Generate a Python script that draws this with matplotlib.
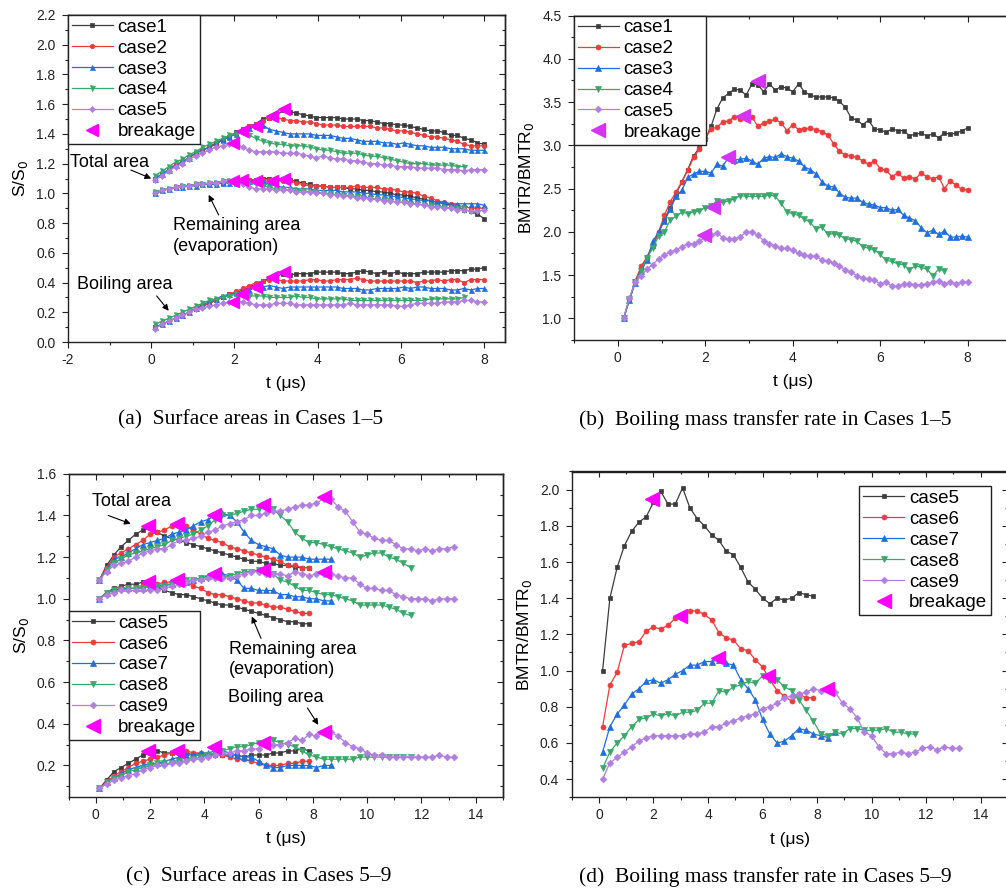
import numpy as np
import matplotlib
matplotlib.use('Agg')
import matplotlib.pyplot as plt
from matplotlib.ticker import MultipleLocator, NullFormatter

plt.rcParams['font.family'] = ['Liberation Sans', 'DejaVu Sans']
plt.rcParams['axes.unicode_minus'] = False

# ---------------- (a) surface areas, cases 1-5 ----------------
T_A = np.linspace(0.1, 8.0, 50)
A_LABELS = ['case1', 'case2', 'case3', 'case4', 'case5']

A_TOTAL = [
    [1.10, 1.13, 1.16, 1.19, 1.21, 1.24, 1.27, 1.29, 1.31, 1.34,
     1.36, 1.38, 1.41, 1.43, 1.45, 1.47, 1.50, 1.51, 1.52, 1.56,
     1.55, 1.54, 1.53, 1.52, 1.51, 1.51, 1.51, 1.51, 1.50, 1.50,
     1.50, 1.49, 1.49, 1.48, 1.47, 1.47, 1.46, 1.46, 1.45, 1.44,
     1.43, 1.42, 1.42, 1.41, 1.39, 1.39, 1.37, 1.36, 1.34, 1.33],
    [1.10, 1.13, 1.16, 1.19, 1.21, 1.24, 1.27, 1.29, 1.31, 1.33,
     1.36, 1.38, 1.40, 1.42, 1.45, 1.47, 1.49, 1.51, 1.51, 1.50,
     1.49, 1.49, 1.48, 1.48, 1.47, 1.46, 1.46, 1.46, 1.45, 1.45,
     1.45, 1.45, 1.45, 1.44, 1.44, 1.43, 1.42, 1.42, 1.41, 1.40,
     1.39, 1.38, 1.38, 1.37, 1.36, 1.35, 1.33, 1.32, 1.32, 1.32],
    [1.10, 1.13, 1.16, 1.19, 1.21, 1.24, 1.27, 1.29, 1.31, 1.33,
     1.36, 1.38, 1.40, 1.42, 1.44, 1.45, 1.46, 1.43, 1.42, 1.41,
     1.40, 1.40, 1.40, 1.40, 1.39, 1.39, 1.39, 1.38, 1.37, 1.37,
     1.36, 1.35, 1.35, 1.35, 1.34, 1.34, 1.33, 1.34, 1.33, 1.32,
     1.32, 1.31, 1.31, 1.31, 1.30, 1.30, 1.30, 1.29, 1.29, 1.29],
    [1.12, 1.15, 1.18, 1.21, 1.23, 1.26, 1.28, 1.31, 1.33, 1.35,
     1.37, 1.39, 1.40, 1.41, 1.39, 1.37, 1.35, 1.34, 1.33, 1.33,
     1.32, 1.32, 1.32, 1.31, 1.30, 1.29, 1.29, 1.28, 1.27, 1.27,
     1.27, 1.26, 1.25, 1.25, 1.24, 1.23, 1.22, 1.21, 1.20, 1.20,
     1.20, 1.19, 1.19, 1.19, 1.19, 1.18, 1.18],
    [1.09, 1.12, 1.15, 1.18, 1.20, 1.23, 1.25, 1.27, 1.29, 1.31,
     1.32, 1.33, 1.34, 1.31, 1.29, 1.28, 1.28, 1.28, 1.28, 1.27,
     1.27, 1.27, 1.26, 1.25, 1.24, 1.25, 1.24, 1.23, 1.23, 1.22,
     1.22, 1.21, 1.20, 1.20, 1.19, 1.19, 1.18, 1.18, 1.18, 1.17,
     1.17, 1.17, 1.17, 1.16, 1.16, 1.16, 1.15, 1.16, 1.16, 1.16],
]
A_REMAIN = [
    [1.00, 1.02, 1.03, 1.04, 1.05, 1.05, 1.06, 1.06, 1.06, 1.07,
     1.07, 1.08, 1.08, 1.09, 1.09, 1.09, 1.10, 1.10, 1.10, 1.10,
     1.09, 1.08, 1.07, 1.06, 1.05, 1.05, 1.04, 1.04, 1.04, 1.03,
     1.03, 1.02, 1.02, 1.01, 1.01, 1.00, 0.99, 0.99, 0.98, 0.97,
     0.96, 0.95, 0.94, 0.93, 0.92, 0.91, 0.89, 0.88, 0.86, 0.83],
    [1.00, 1.02, 1.03, 1.04, 1.05, 1.05, 1.06, 1.06, 1.06, 1.07,
     1.07, 1.08, 1.08, 1.08, 1.09, 1.09, 1.09, 1.09, 1.09, 1.08,
     1.08, 1.07, 1.06, 1.05, 1.05, 1.05, 1.04, 1.04, 1.04, 1.04,
     1.05, 1.04, 1.04, 1.04, 1.03, 1.03, 1.02, 1.01, 1.01, 1.00,
     0.98, 0.97, 0.95, 0.94, 0.93, 0.92, 0.91, 0.90, 0.90, 0.90],
    [1.00, 1.02, 1.03, 1.04, 1.04, 1.05, 1.05, 1.06, 1.06, 1.06,
     1.07, 1.07, 1.07, 1.08, 1.08, 1.08, 1.08, 1.06, 1.05, 1.04,
     1.04, 1.03, 1.03, 1.03, 1.02, 1.02, 1.02, 1.02, 1.01, 1.01,
     1.01, 1.00, 1.00, 0.99, 0.99, 0.98, 0.98, 0.97, 0.96, 0.96,
     0.95, 0.95, 0.94, 0.94, 0.93, 0.93, 0.93, 0.93, 0.93, 0.92],
    [1.01, 1.02, 1.03, 1.04, 1.05, 1.05, 1.06, 1.06, 1.07, 1.07,
     1.08, 1.08, 1.09, 1.09, 1.07, 1.06, 1.05, 1.04, 1.03, 1.03,
     1.02, 1.02, 1.02, 1.01, 1.01, 1.00, 1.00, 0.99, 0.99, 0.98,
     0.98, 0.97, 0.97, 0.96, 0.96, 0.95, 0.94, 0.94, 0.93, 0.93,
     0.92, 0.92, 0.91, 0.91, 0.90, 0.90, 0.90],
    [1.00, 1.02, 1.03, 1.04, 1.05, 1.05, 1.06, 1.06, 1.07, 1.07,
     1.08, 1.08, 1.08, 1.06, 1.04, 1.03, 1.03, 1.03, 1.02, 1.02,
     1.02, 1.01, 1.01, 1.01, 1.00, 1.00, 0.99, 0.99, 0.98, 0.98,
     0.97, 0.97, 0.96, 0.96, 0.95, 0.95, 0.94, 0.94, 0.93, 0.93,
     0.92, 0.91, 0.91, 0.90, 0.90, 0.89, 0.89, 0.88, 0.88, 0.89],
]
A_BOIL = [
    [0.10, 0.12, 0.14, 0.16, 0.18, 0.20, 0.22, 0.24, 0.26, 0.28,
     0.30, 0.32, 0.33, 0.35, 0.37, 0.39, 0.41, 0.43, 0.44, 0.46,
     0.45, 0.46, 0.46, 0.46, 0.47, 0.47, 0.47, 0.47, 0.46, 0.46,
     0.47, 0.48, 0.47, 0.46, 0.47, 0.46, 0.47, 0.46, 0.46, 0.46,
     0.47, 0.47, 0.47, 0.47, 0.48, 0.48, 0.48, 0.49, 0.49, 0.50],
    [0.10, 0.12, 0.14, 0.16, 0.18, 0.20, 0.22, 0.24, 0.26, 0.28,
     0.30, 0.32, 0.34, 0.36, 0.38, 0.40, 0.41, 0.42, 0.42, 0.41,
     0.41, 0.41, 0.41, 0.42, 0.42, 0.41, 0.41, 0.42, 0.42, 0.42,
     0.43, 0.42, 0.41, 0.41, 0.41, 0.41, 0.41, 0.41, 0.41, 0.40,
     0.41, 0.41, 0.42, 0.41, 0.42, 0.42, 0.40, 0.42, 0.42, 0.42],
    [0.10, 0.12, 0.14, 0.16, 0.18, 0.20, 0.23, 0.25, 0.27, 0.29,
     0.31, 0.32, 0.33, 0.34, 0.35, 0.37, 0.37, 0.38, 0.37, 0.36,
     0.37, 0.37, 0.37, 0.37, 0.37, 0.37, 0.37, 0.37, 0.36, 0.36,
     0.36, 0.35, 0.35, 0.36, 0.36, 0.36, 0.36, 0.37, 0.36, 0.37,
     0.37, 0.36, 0.36, 0.36, 0.35, 0.35, 0.36, 0.35, 0.36, 0.36],
    [0.12, 0.14, 0.16, 0.18, 0.20, 0.22, 0.24, 0.26, 0.28, 0.29,
     0.30, 0.31, 0.32, 0.32, 0.31, 0.31, 0.31, 0.30, 0.30, 0.30,
     0.30, 0.31, 0.30, 0.30, 0.29, 0.29, 0.29, 0.29, 0.29, 0.28,
     0.28, 0.28, 0.28, 0.28, 0.28, 0.28, 0.28, 0.28, 0.28, 0.28,
     0.28, 0.29, 0.29, 0.29, 0.29, 0.29, 0.30],
    [0.09, 0.12, 0.14, 0.16, 0.18, 0.20, 0.22, 0.23, 0.24, 0.25,
     0.26, 0.27, 0.27, 0.27, 0.26, 0.25, 0.25, 0.25, 0.26, 0.26,
     0.26, 0.25, 0.25, 0.25, 0.25, 0.25, 0.25, 0.25, 0.25, 0.26,
     0.25, 0.25, 0.25, 0.25, 0.25, 0.25, 0.24, 0.24, 0.25, 0.26,
     0.26, 0.26, 0.26, 0.27, 0.27, 0.27, 0.28, 0.28, 0.27, 0.27],
]
A_BRK_T = [3.18, 2.91, 2.51, 2.17, 1.97]
A_BRK_TOTAL = [1.57, 1.52, 1.45, 1.42, 1.34]
A_BRK_REMAIN = [1.10, 1.08, 1.08, 1.09, 1.08]
A_BRK_BOIL = [0.47, 0.44, 0.37, 0.32, 0.27]

# ---------------- (b) boiling mass transfer rate, cases 1-5 ----------------
T_B = np.arange(1, 61) * 2 / 15
B_RATE = [
    [1.00, 1.22, 1.43, 1.58, 1.70, 1.84, 1.99, 2.14, 2.28, 2.44,
     2.58, 2.72, 2.88, 2.97, 3.07, 3.22, 3.42, 3.55, 3.60, 3.65,
     3.64, 3.58, 3.71, 3.70, 3.62, 3.71, 3.64, 3.68, 3.66, 3.62,
     3.71, 3.62, 3.58, 3.56, 3.56, 3.56, 3.55, 3.51, 3.44, 3.32,
     3.29, 3.24, 3.29, 3.19, 3.18, 3.15, 3.19, 3.17, 3.17, 3.11,
     3.13, 3.14, 3.11, 3.13, 3.09, 3.14, 3.13, 3.14, 3.17, 3.20],
    [1.00, 1.22, 1.43, 1.60, 1.71, 1.85, 2.00, 2.19, 2.35, 2.46,
     2.58, 2.71, 2.86, 2.96, 3.08, 3.19, 3.21, 3.27, 3.28, 3.33,
     3.31, 3.32, 3.33, 3.22, 3.26, 3.28, 3.30, 3.26, 3.17, 3.24,
     3.18, 3.19, 3.20, 3.18, 3.16, 3.12, 3.02, 2.93, 2.89, 2.88,
     2.86, 2.82, 2.78, 2.82, 2.73, 2.71, 2.64, 2.68, 2.62, 2.64,
     2.61, 2.68, 2.64, 2.61, 2.64, 2.50, 2.59, 2.54, 2.49, 2.48],
    [1.00, 1.21, 1.41, 1.55, 1.67, 1.89, 2.00, 2.13, 2.26, 2.41,
     2.48, 2.63, 2.67, 2.70, 2.70, 2.68, 2.78, 2.76, 2.86, 2.83,
     2.84, 2.85, 2.82, 2.78, 2.85, 2.87, 2.86, 2.90, 2.87, 2.85,
     2.82, 2.75, 2.72, 2.67, 2.58, 2.53, 2.52, 2.45, 2.40, 2.39,
     2.39, 2.34, 2.32, 2.31, 2.28, 2.28, 2.25, 2.26, 2.19, 2.16,
     2.13, 2.05, 1.99, 2.02, 1.97, 2.01, 1.94, 1.94, 1.95, 1.94],
    [1.00, 1.22, 1.42, 1.55, 1.70, 1.81, 1.95, 2.00, 2.14, 2.18,
     2.23, 2.21, 2.23, 2.24, 2.28, 2.30, 2.36, 2.34, 2.36, 2.38,
     2.42, 2.41, 2.41, 2.41, 2.41, 2.43, 2.41, 2.33, 2.23, 2.21,
     2.19, 2.15, 2.11, 2.03, 2.06, 1.97, 1.98, 1.96, 1.92, 1.91,
     1.89, 1.83, 1.81, 1.79, 1.74, 1.67, 1.66, 1.63, 1.62, 1.56,
     1.61, 1.59, 1.57, 1.49, 1.57, 1.55],
    [1.00, 1.24, 1.42, 1.49, 1.57, 1.62, 1.69, 1.73, 1.77, 1.79,
     1.83, 1.86, 1.86, 1.90, 1.93, 1.96, 1.99, 1.93, 1.92, 1.92,
     1.94, 2.00, 2.00, 1.96, 1.90, 1.86, 1.84, 1.81, 1.81, 1.79,
     1.75, 1.73, 1.72, 1.72, 1.67, 1.66, 1.64, 1.61, 1.56, 1.54,
     1.49, 1.47, 1.45, 1.44, 1.40, 1.42, 1.37, 1.37, 1.40, 1.40,
     1.39, 1.39, 1.40, 1.42, 1.43, 1.40, 1.42, 1.40, 1.42, 1.42],
]
B_BRK_T = [3.20, 2.87, 2.51, 2.17, 1.97]
B_BRK_RATE = [3.74, 3.34, 2.87, 2.29, 1.96]

# ---------------- (c)/(d) cases 5-9 ----------------
T_CD = (2 * np.arange(50) + 1) * 2 / 15
CD_LABELS = ['case5', 'case6', 'case7', 'case8', 'case9']

C_TOTAL = [
    [1.09, 1.16, 1.21, 1.25, 1.28, 1.31, 1.33, 1.34, 1.32, 1.30,
     1.29, 1.28, 1.27, 1.26, 1.25, 1.24, 1.23, 1.22, 1.21, 1.20,
     1.19, 1.18, 1.18, 1.17, 1.17, 1.16, 1.16, 1.15, 1.15, 1.15],
    [1.09, 1.15, 1.20, 1.22, 1.24, 1.26, 1.28, 1.31, 1.32, 1.33,
     1.35, 1.35, 1.35, 1.33, 1.31, 1.29, 1.28, 1.27, 1.25, 1.24,
     1.23, 1.22, 1.21, 1.20, 1.19, 1.18, 1.16, 1.16, 1.15, 1.15],
    [1.09, 1.14, 1.19, 1.20, 1.22, 1.24, 1.26, 1.27, 1.28, 1.29,
     1.31, 1.32, 1.33, 1.35, 1.37, 1.38, 1.40, 1.41, 1.40, 1.37,
     1.32, 1.28, 1.26, 1.25, 1.24, 1.21, 1.20, 1.20, 1.20, 1.19,
     1.19, 1.19, 1.19],
    [1.09, 1.14, 1.17, 1.19, 1.21, 1.22, 1.23, 1.24, 1.25, 1.26,
     1.28, 1.29, 1.30, 1.31, 1.33, 1.35, 1.38, 1.40, 1.40, 1.41,
     1.42, 1.43, 1.43, 1.44, 1.43, 1.40, 1.37, 1.32, 1.29, 1.27,
     1.27, 1.26, 1.25, 1.24, 1.23, 1.22, 1.20, 1.21, 1.22, 1.22,
     1.20, 1.19, 1.17, 1.15],
    [1.09, 1.13, 1.16, 1.17, 1.18, 1.20, 1.22, 1.23, 1.24, 1.24,
     1.26, 1.28, 1.28, 1.29, 1.30, 1.32, 1.33, 1.35, 1.36, 1.37,
     1.38, 1.40, 1.40, 1.41, 1.42, 1.42, 1.43, 1.44, 1.45, 1.45,
     1.46, 1.48, 1.48, 1.44, 1.42, 1.37, 1.32, 1.31, 1.29, 1.28,
     1.28, 1.26, 1.24, 1.24, 1.23, 1.24, 1.23, 1.24, 1.24, 1.25],
]
C_REMAIN = [
    [1.00, 1.03, 1.05, 1.06, 1.07, 1.07, 1.08, 1.08, 1.06, 1.04,
     1.03, 1.02, 1.02, 1.01, 1.00, 0.99, 0.98, 0.97, 0.97, 0.96,
     0.95, 0.94, 0.93, 0.92, 0.91, 0.90, 0.89, 0.89, 0.88, 0.88],
    [1.00, 1.03, 1.04, 1.05, 1.05, 1.05, 1.06, 1.07, 1.07, 1.08,
     1.08, 1.08, 1.08, 1.06, 1.05, 1.03, 1.02, 1.02, 1.01, 1.00,
     0.99, 0.98, 0.98, 0.97, 0.96, 0.96, 0.95, 0.94, 0.93, 0.93],
    [1.00, 1.03, 1.04, 1.05, 1.05, 1.05, 1.05, 1.06, 1.06, 1.07,
     1.07, 1.08, 1.08, 1.09, 1.10, 1.11, 1.12, 1.12, 1.11, 1.09,
     1.05, 1.05, 1.04, 1.04, 1.04, 1.02, 1.02, 1.01, 1.01, 1.00,
     1.00, 0.99, 0.99],
    [1.00, 1.03, 1.04, 1.04, 1.05, 1.05, 1.05, 1.06, 1.06, 1.06,
     1.07, 1.08, 1.09, 1.09, 1.10, 1.10, 1.10, 1.10, 1.11, 1.12,
     1.13, 1.13, 1.14, 1.13, 1.12, 1.09, 1.08, 1.06, 1.04, 1.04,
     1.03, 1.02, 1.02, 1.01, 1.00, 0.99, 0.97, 0.97, 0.97, 0.97,
     0.96, 0.95, 0.93, 0.92],
    [1.00, 1.02, 1.03, 1.04, 1.04, 1.04, 1.04, 1.04, 1.04, 1.05,
     1.06, 1.07, 1.08, 1.09, 1.09, 1.10, 1.10, 1.10, 1.10, 1.11,
     1.12, 1.13, 1.13, 1.12, 1.12, 1.12, 1.11, 1.13, 1.12, 1.11,
     1.12, 1.12, 1.12, 1.11, 1.10, 1.10, 1.07, 1.05, 1.05, 1.04,
     1.04, 1.02, 1.01, 1.00, 1.00, 1.00, 0.99, 1.00, 1.00, 1.00],
]
C_BOIL = [
    [0.09, 0.13, 0.17, 0.19, 0.21, 0.23, 0.25, 0.26, 0.27, 0.26,
     0.26, 0.26, 0.26, 0.25, 0.25, 0.25, 0.25, 0.25, 0.25, 0.25,
     0.24, 0.25, 0.25, 0.25, 0.26, 0.26, 0.27, 0.27, 0.28, 0.27],
    [0.09, 0.12, 0.15, 0.17, 0.19, 0.21, 0.22, 0.23, 0.24, 0.25,
     0.26, 0.27, 0.27, 0.26, 0.26, 0.25, 0.25, 0.25, 0.24, 0.23,
     0.23, 0.22, 0.21, 0.20, 0.20, 0.20, 0.21, 0.21, 0.22, 0.22],
    [0.09, 0.12, 0.14, 0.16, 0.18, 0.19, 0.20, 0.21, 0.21, 0.22,
     0.23, 0.24, 0.25, 0.25, 0.26, 0.26, 0.27, 0.27, 0.26, 0.25,
     0.24, 0.24, 0.22, 0.20, 0.19, 0.19, 0.20, 0.20, 0.20, 0.20,
     0.19, 0.20, 0.20],
    [0.09, 0.12, 0.14, 0.15, 0.17, 0.18, 0.19, 0.20, 0.21, 0.21,
     0.21, 0.22, 0.22, 0.23, 0.24, 0.25, 0.26, 0.27, 0.28, 0.29,
     0.29, 0.30, 0.31, 0.31, 0.32, 0.31, 0.30, 0.29, 0.27, 0.25,
     0.24, 0.23, 0.23, 0.23, 0.23, 0.23, 0.24, 0.24, 0.24, 0.24,
     0.24, 0.24, 0.24, 0.24],
    [0.09, 0.11, 0.13, 0.14, 0.15, 0.16, 0.18, 0.19, 0.20, 0.20,
     0.21, 0.21, 0.22, 0.23, 0.23, 0.24, 0.25, 0.26, 0.26, 0.27,
     0.27, 0.28, 0.28, 0.30, 0.30, 0.30, 0.31, 0.33, 0.32, 0.35,
     0.34, 0.36, 0.36, 0.34, 0.31, 0.29, 0.28, 0.26, 0.25, 0.25,
     0.24, 0.24, 0.24, 0.24, 0.24, 0.24, 0.24, 0.25, 0.24, 0.24],
]
C_BRK_T = [1.94, 3.00, 4.34, 6.18, 8.40]
C_BRK_TOTAL = [1.35, 1.36, 1.40, 1.45, 1.49]
C_BRK_REMAIN = [1.08, 1.09, 1.12, 1.14, 1.13]
C_BRK_BOIL = [0.27, 0.27, 0.29, 0.31, 0.36]

D_RATE = [
    [1.00, 1.40, 1.57, 1.69, 1.77, 1.82, 1.85, 1.93, 1.99, 1.92,
     1.92, 2.01, 1.90, 1.84, 1.80, 1.75, 1.72, 1.66, 1.64, 1.57,
     1.49, 1.45, 1.40, 1.37, 1.40, 1.39, 1.40, 1.43, 1.42, 1.41],
    [0.69, 0.92, 0.99, 1.14, 1.15, 1.16, 1.22, 1.24, 1.23, 1.25,
     1.29, 1.30, 1.33, 1.33, 1.31, 1.28, 1.21, 1.18, 1.17, 1.12,
     1.11, 1.06, 1.02, 0.95, 0.89, 0.86, 0.83, 0.87, 0.85, 0.85],
    [0.55, 0.69, 0.76, 0.81, 0.87, 0.90, 0.94, 0.95, 0.93, 0.95,
     0.98, 1.00, 1.03, 1.03, 1.05, 1.05, 1.06, 1.04, 1.03, 0.95,
     0.90, 0.84, 0.73, 0.65, 0.60, 0.61, 0.64, 0.68, 0.67, 0.65,
     0.64, 0.63, 0.66],
    [0.46, 0.55, 0.60, 0.64, 0.69, 0.73, 0.74, 0.76, 0.75, 0.76,
     0.75, 0.77, 0.77, 0.78, 0.82, 0.82, 0.89, 0.88, 0.91, 0.92,
     0.94, 0.93, 0.97, 0.95, 0.95, 0.91, 0.89, 0.84, 0.78, 0.72,
     0.65, 0.64, 0.66, 0.65, 0.68, 0.68, 0.67, 0.67, 0.67, 0.68,
     0.66, 0.66, 0.65, 0.65],
    [0.40, 0.49, 0.52, 0.55, 0.58, 0.61, 0.63, 0.64, 0.64, 0.64,
     0.64, 0.64, 0.65, 0.65, 0.66, 0.69, 0.69, 0.71, 0.72, 0.74,
     0.75, 0.76, 0.79, 0.80, 0.82, 0.85, 0.86, 0.87, 0.88, 0.90,
     0.89, 0.90, 0.88, 0.82, 0.79, 0.74, 0.66, 0.64, 0.58, 0.54,
     0.54, 0.55, 0.54, 0.55, 0.57, 0.58, 0.56, 0.58, 0.57, 0.57],
]
D_BRK_T = [1.93, 2.97, 4.38, 6.21, 8.35]
D_BRK_RATE = [1.95, 1.30, 1.07, 0.97, 0.90]

# colour / marker per legend slot
STYLES = [('#3c3c3c', 's'), ('#ee3b3b', 'o'), ('#1f6fdf', '^'),
          ('#3aa86a', 'v'), ('#b07fe0', 'D')]
MS = {'s': 3.0, 'o': 3.6, '^': 4.0, 'v': 4.0, 'D': 3.4}
MAGENTA = '#ff00ff'

W, H = 1006, 893
fig = plt.figure(figsize=(W / 100, H / 100), dpi=100)


def px_axes(left, top, right, bottom):
    return fig.add_axes([left / W, 1 - bottom / H, (right - left) / W, (bottom - top) / H])


def frame(ax, xlim, ylim, xmaj, xmin, ymaj, ymin, ylabel):
    ax.set_xlim(*xlim)
    ax.set_ylim(*ylim)
    ax.xaxis.set_major_locator(MultipleLocator(xmaj))
    ax.xaxis.set_minor_locator(MultipleLocator(xmin))
    ax.yaxis.set_major_locator(MultipleLocator(ymaj))
    ax.yaxis.set_minor_locator(MultipleLocator(ymin))
    ax.tick_params(which='both', direction='out', width=0.8, labelsize=10,
                   top=False, right=False, colors='#222222')
    ax.tick_params(which='major', length=4)
    ax.tick_params(which='minor', length=2.5)
    ax.tick_params(axis='y', pad=5)
    ax.tick_params(axis='x', pad=4)
    for sp in ax.spines.values():
        sp.set_linewidth(1.0)
        sp.set_color('#222222')
    # mirrored inward ticks on top and right
    top = ax.secondary_xaxis('top')
    top.xaxis.set_major_locator(MultipleLocator(xmaj))
    top.xaxis.set_minor_locator(MultipleLocator(xmin))
    top.xaxis.set_major_formatter(NullFormatter())
    right = ax.secondary_yaxis('right')
    right.yaxis.set_major_locator(MultipleLocator(ymaj))
    right.yaxis.set_minor_locator(MultipleLocator(ymin))
    right.yaxis.set_major_formatter(NullFormatter())
    for sec in (top, right):
        sec.tick_params(which='both', direction='in', width=0.8, colors='#222222')
        sec.tick_params(which='major', length=4)
        sec.tick_params(which='minor', length=2.5)
        for sp in sec.spines.values():
            sp.set_linewidth(1.0)
            sp.set_color('#222222')
    ax.set_xlabel('t (μs)', fontsize=12.5)
    ax.set_ylabel(ylabel, fontsize=12.5)
    ax.xaxis.set_label_coords(0.5, -0.128)
    ax.xaxis.label.set_va('center')
    ax.yaxis.set_label_coords(-0.108, 0.5)
    ax.yaxis.label.set_va('center')


def series(ax, t, ys, ms_scale=1.0):
    lines = []
    for y, (color, marker) in zip(ys, STYLES):
        ln, = ax.plot(t[:len(y)], y, color=color, lw=0.9, marker=marker,
                      ms=MS[marker] * ms_scale, mfc=color, mec=color, mew=0.5)
        lines.append(ln)
    return lines


def breakage(ax, t, v, color, ms):
    return ax.plot(t, v, ls='none', marker='<', ms=ms, color=color,
                   mec=color, zorder=5)[0]


def legend(ax, lines, labels, brk, **kw):
    leg = ax.legend(lines + [brk], labels + ['breakage'], fontsize=13.5,
                    numpoints=1, handlelength=2.2, handletextpad=0.25,
                    labelspacing=0.2, borderpad=0.2, borderaxespad=0,
                    fancybox=False, framealpha=1, edgecolor='#222222', **kw)
    leg.get_frame().set_linewidth(1.0)
    leg.set_zorder(10)


def note(ax, text, xy, xytext, tx):
    ax.annotate('', xy=xy, xytext=xytext,
                arrowprops=dict(arrowstyle='-|>', color='black', lw=0.8,
                                mutation_scale=9, shrinkA=0, shrinkB=0))
    ax.text(*tx, text, fontsize=13, ha='left', va='center', linespacing=1.25)


# (a)
ax = px_axes(68, 15, 505, 342)
frame(ax, (-2, 8.5), (0, 2.2), 2, 1, 0.2, 0.1, 'S/S$_0$')
lines = series(ax, T_A, A_TOTAL, 0.9)
series(ax, T_A, A_REMAIN, 0.9)
series(ax, T_A, A_BOIL, 0.9)
brk = breakage(ax, A_BRK_T, A_BRK_TOTAL, MAGENTA, 8)
breakage(ax, A_BRK_T, A_BRK_REMAIN, MAGENTA, 8)
breakage(ax, A_BRK_T, A_BRK_BOIL, MAGENTA, 8)
legend(ax, lines, A_LABELS, brk, loc='upper left', bbox_to_anchor=(0, 1))
note(ax, 'Total area', (0.0, 1.10), (-0.49, 1.157), (-1.95, 1.21))
note(ax, 'Remaining area\n(evaporation)', (1.38, 0.99), (1.62, 0.855), (0.52, 0.713))
note(ax, 'Boiling area', (0.42, 0.21), (0.13, 0.31), (-1.78, 0.39))

# (b)
ax = px_axes(574, 15.6, 1011.5, 340)
frame(ax, (-1, 9), (0.75, 4.5), 2, 1, 0.5, 0.25, 'BMTR/BMTR$_0$')
lines = series(ax, T_B, B_RATE)
brk = breakage(ax, B_BRK_T, B_BRK_RATE, '#d633f5', 9.5)
legend(ax, lines, A_LABELS, brk, loc='upper left', bbox_to_anchor=(0, 1))

# (c)
ax = px_axes(68.6, 473.8, 502.8, 796.7)
frame(ax, (-1, 15), (0.05, 1.6), 2, 1, 0.2, 0.1, 'S/S$_0$')
lines = series(ax, T_CD, C_TOTAL)
series(ax, T_CD, C_REMAIN)
series(ax, T_CD, C_BOIL)
brk = breakage(ax, C_BRK_T, C_BRK_TOTAL, MAGENTA, 9.5)
breakage(ax, C_BRK_T, C_BRK_REMAIN, MAGENTA, 9.5)
breakage(ax, C_BRK_T, C_BRK_BOIL, MAGENTA, 9.5)
legend(ax, lines, CD_LABELS, brk, loc='lower left', bbox_to_anchor=(0, 0.176))
note(ax, 'Total area', (1.29, 1.36), (0.46, 1.40), (-0.15, 1.467))
note(ax, 'Remaining area\n(evaporation)', (5.75, 0.915), (6.09, 0.81), (4.91, 0.709))
note(ax, 'Boiling area', (8.20, 0.395), (7.80, 0.476), (4.86, 0.528))

# (d)
ax = px_axes(571.7, 471.5, 1007.9, 797.3)
frame(ax, (-1, 15), (0.3, 2.1), 2, 1, 0.2, 0.1, 'BMTR/BMTR$_0$')
lines = series(ax, T_CD, D_RATE)
brk = breakage(ax, D_BRK_T, D_BRK_RATE, MAGENTA, 9.5)
legend(ax, lines, CD_LABELS, brk, loc='upper right', bbox_to_anchor=(0.961, 0.955))

# sub-figure captions
captions = [('(a)  Surface areas in Cases 1–5', 251, 420),
            ('(b)  Boiling mass transfer rate in Cases 1–5', 765, 420),
            ('(c)  Surface areas in Cases 5–9', 259, 877),
            ('(d)  Boiling mass transfer rate in Cases 5–9', 765, 877)]
for text, x, y in captions:
    fig.text(x / W, 1 - y / H, text, ha='center', va='center',
             fontsize=15.5, family='Liberation Serif')

fig.savefig('out.png', dpi=100)
